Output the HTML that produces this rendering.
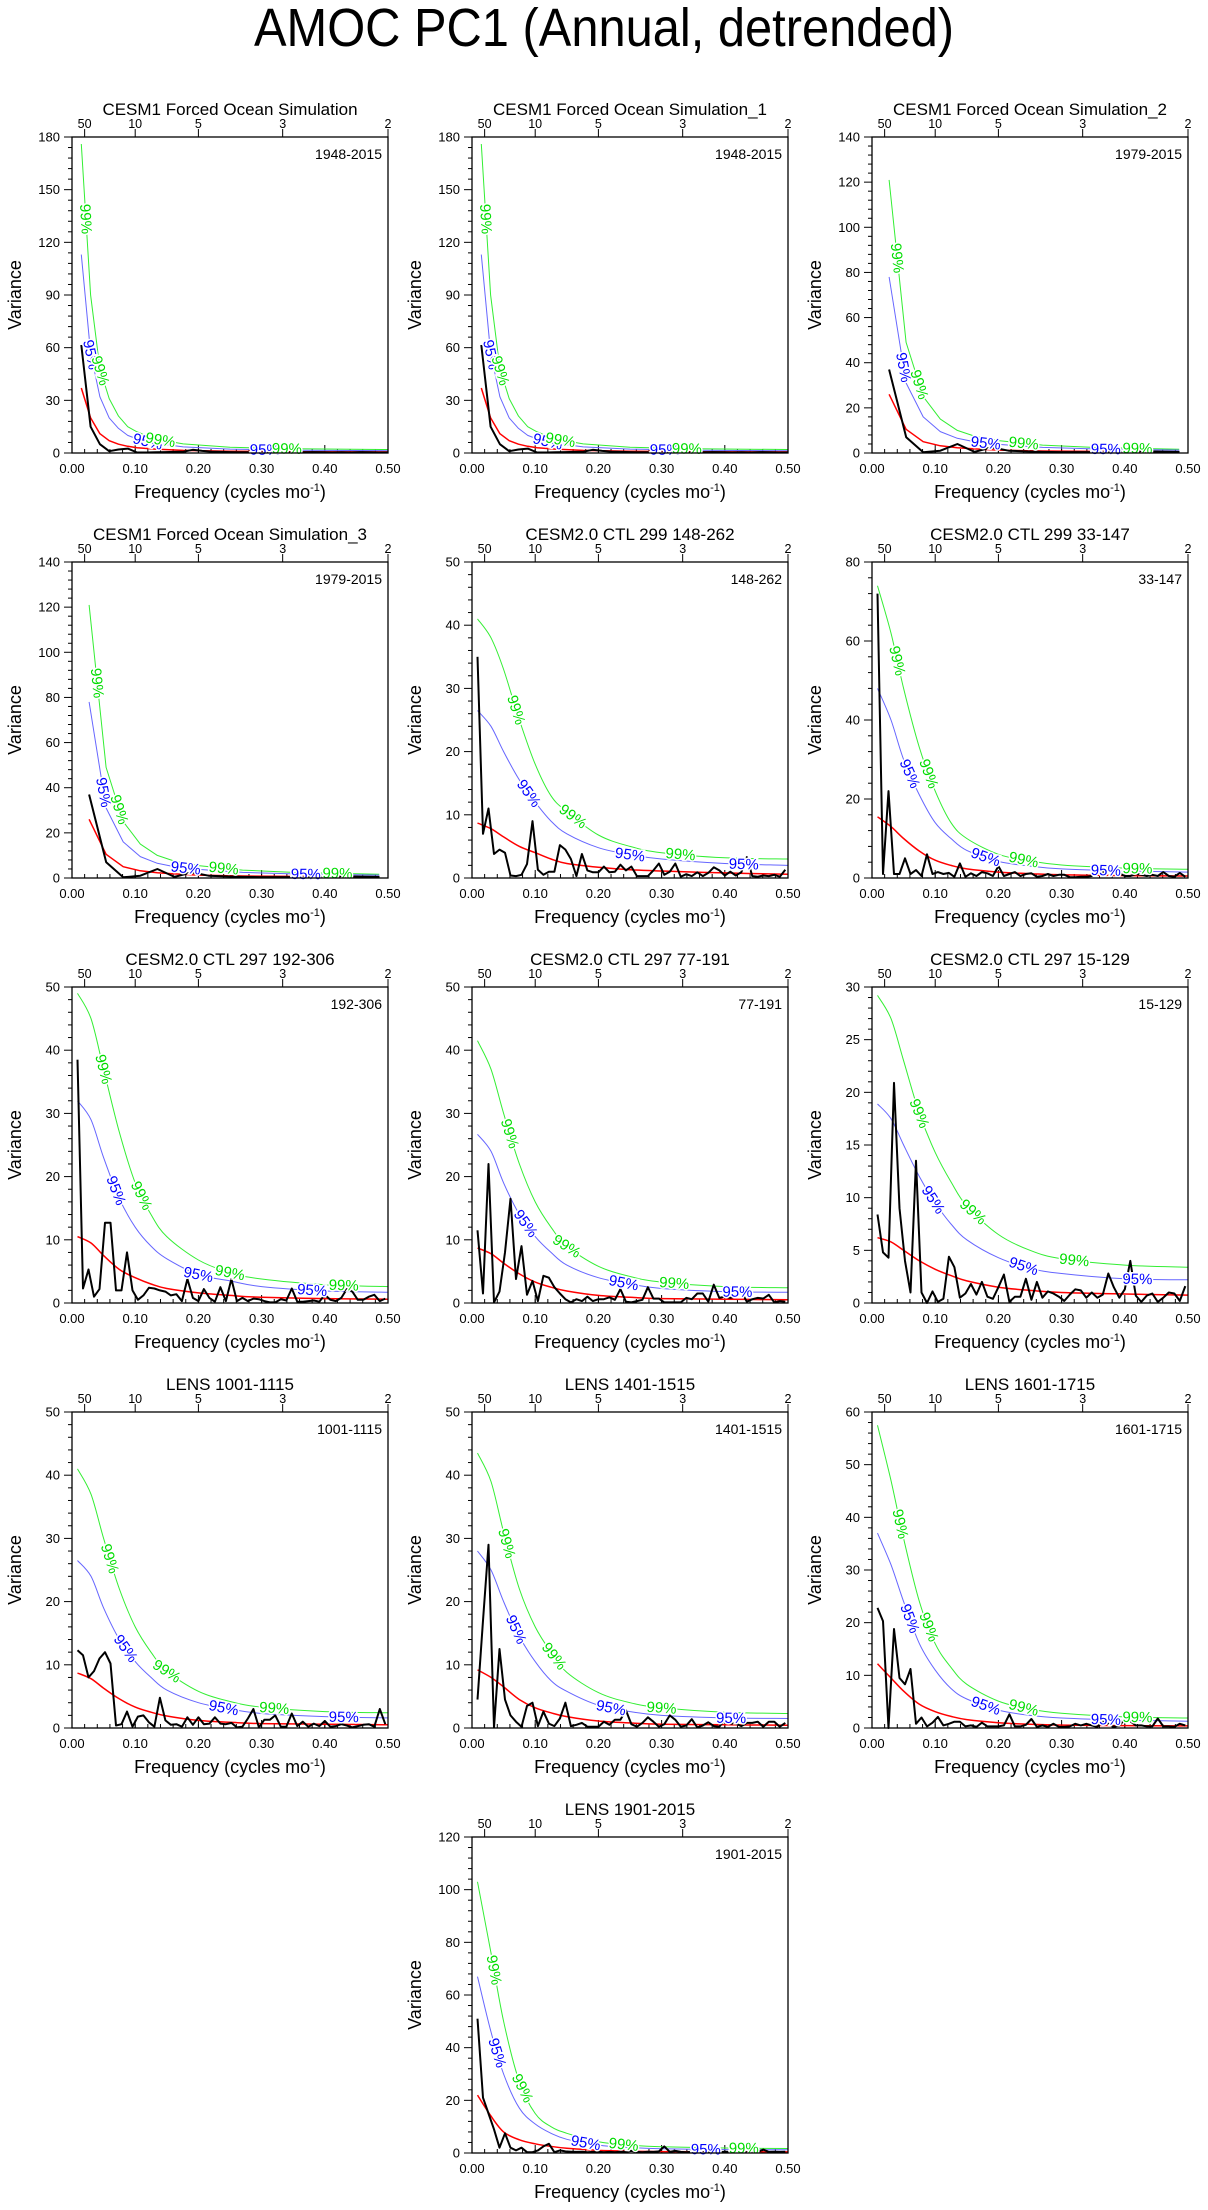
<!DOCTYPE html>
<html><head><meta charset="utf-8"><title>AMOC PC1 (Annual, detrended)</title>
<style>
html,body{margin:0;padding:0;background:#fff;}
svg{display:block;font-family:"Liberation Sans",Arial,sans-serif;}
</style></head>
<body>
<svg id="chart" width="1208" height="2210" viewBox="0 0 1208 2210" xmlns="http://www.w3.org/2000/svg">
<rect width="1208" height="2210" fill="#fff"/>
<text x="604" y="46" font-size="54" text-anchor="middle" textLength="700" lengthAdjust="spacingAndGlyphs">AMOC PC1 (Annual, detrended)</text>
</svg>
<script>
// ---------- data ----------
const titles = ["CESM1 Forced Ocean Simulation","CESM1 Forced Ocean Simulation_1","CESM1 Forced Ocean Simulation_2","CESM1 Forced Ocean Simulation_3","CESM2.0 CTL 299 148-262","CESM2.0 CTL 299 33-147","CESM2.0 CTL 297 192-306","CESM2.0 CTL 297 77-191","CESM2.0 CTL 297 15-129","LENS 1001-1115","LENS 1401-1515","LENS 1601-1715","LENS 1901-2015"];
const periodLabels = ["1948-2015","1948-2015","1979-2015","1979-2015","148-262","33-147","192-306","77-191","15-129","1001-1115","1401-1515","1601-1715","1901-2015"];
const recordLengths = [68,68,37,37,115,115,115,115,115,115,115,115,115];
const yMaxes = [180,180,140,140,50,80,50,50,30,50,50,60,120];
const yMajorSteps = [30,30,20,20,10,20,10,10,5,10,10,10,20];
const xTickValues = [0,0.1,0.2,0.3,0.4,0.5];
const xTickLabels = ["0.00","0.10","0.20","0.30","0.40","0.50"];
const topPeriods = [50,10,5,3,2];

const curveFreq68 = [0.0147,0.0294,0.0441,0.0588,0.0735,0.0882,0.103,0.132,0.176,0.25,0.35,0.5];
const curveFreq37 = [0.027,0.054,0.081,0.108,0.135,0.162,0.2,0.27,0.35,0.486];
const curveFreq115 = [0.0087,0.03,0.05,0.075,0.1,0.125,0.15,0.2,0.25,0.3,0.4,0.5];

const spec1 = [61.5,15,5,1,2,2.5,0.3,0.3,0.4,0.5,0.6,0.8,1.8,1.2,0.8,0.6,0.5,0.4,0.4,0.3,0.3,0.4,0.3,0.3,0.4,0.5,0.4,0.3,0.4,0.3,0.5,0.4,0.3,0.3];
const spec3 = [37,7,0.3,1,4,0.5,2.5,1,0.7,0.5,0.4,0.4,0.4,0.3,0.8,0.8,0.6,0.5];
const spec5 = [35,7,11,3.8,4.5,4,0.4,0.3,0.5,2.2,9,1.3,0.5,1,1,5.2,4.5,3,0.3,3.8,1.2,0.9,0.9,1.8,0.9,1,2.1,1.2,1.8,0.3,0.3,0.3,1.2,2.3,0.5,1,2.3,0.2,0.6,0.3,0.9,0.3,0.8,1.7,1.2,0.4,1,0.4,0.9,3.3,0.3,0.2,0.4,0.3,0.5,0.2,1.3];
const spec6 = [72,1,22,1,1,5,1,2,0.5,6,1,1.5,1,1.3,0.3,3.7,0.3,1.2,0.5,1.5,1.2,0.5,3,0.5,1,1.5,0.5,1,1.2,0.3,0.5,1,0.5,0.8,0.8,0.2,0.2,0.3,0.3,0.5,2,1.5,1.8,2.5,1.2,0.5,0.5,1,0.8,0.5,0.8,0.5,1.5,0.5,0.3,1.3,0.3];
const spec7 = [38.5,2.3,5.3,1,2.2,12.7,12.7,2,2,8,2,0.5,1.2,2.4,2.3,2,1.8,1.2,1.4,0.3,3.8,0.8,0.3,2.2,0.8,0.2,2.5,0.3,3.8,0.3,0.8,0.3,0.7,0.6,0.3,0.1,0.1,0.6,0.4,2.3,0.2,0.2,0.3,0.4,0.2,1.3,0.5,0.3,0.8,2.2,1.8,0.5,0.5,1,1.3,0.3,0.7];
const spec8 = [11.5,1.5,22,0.1,1.8,8,16.5,3.8,9,1.3,3.5,0.3,4.3,4,2.5,1.5,0.6,0.1,0.6,0.3,1,0.3,0.6,0.6,0.9,0.5,2.2,0.2,0.1,0.3,0.5,2.5,0.7,0.7,0.1,0.1,0.1,0.1,0.8,0.6,1.5,1.5,0.2,2.9,0.8,1,0.8,1,1.8,0.2,0.6,0.8,0.7,1.3,0.1,0.3,0.2];
const spec9 = [8.4,4.8,4.3,20.9,9,4,1,13.5,1,0,1.1,0.1,0.4,4.4,3.4,0.5,0.9,1.8,0.8,2,0.6,0.4,1.5,2.7,0.1,0.6,0.6,2.3,0.3,2,0.5,1.1,0.9,0.6,0.2,0.8,1.3,1.2,0.5,1,0.5,0.8,2.8,1.5,0.5,1.3,4,0.7,0.1,0.7,0.9,0.1,0.5,1,0.9,0.2,1.6];
const spec10 = [12.3,11.5,8,9,11,12,10.2,0.4,0.6,2.6,0.2,1.8,2,0.9,0.2,4.8,1.2,0.5,0.6,0.2,1.7,0.5,1.7,0.6,0.7,1.7,0.7,0.6,0.8,0.1,0.2,1.5,3,0.1,1.3,1.3,2,0.2,0.2,2.3,0.3,1,0.2,0.7,0.3,1.1,0.2,0.3,0.6,0.4,0.1,0.3,0.5,0.6,0.2,3,0.6];
const spec11 = [4.5,17,29,0.1,12.5,4.5,2,1,0.2,3.5,4,0.3,2.6,0.7,0.3,1.5,4,0.3,0.5,0.8,0.2,0.2,0.2,1,0.5,1.3,1.3,2.8,0.6,0.2,0.8,1.7,1,0.2,0.6,2,1.3,0.2,0.4,1.4,0.1,0.4,0.9,0.3,0.2,1.3,0.7,0.7,0.3,0.8,0.8,1,0.2,1,1,0.2,0.8];
const spec12 = [22.8,20.3,0,18.8,9.5,8.3,11.2,0.8,2,0.3,1,2.1,0.5,0.8,1.2,1.2,0.3,0.5,0.2,1,0.3,0.3,0.3,0.5,2.6,0.3,0.3,0.6,1.7,0.2,0.5,0.2,0.8,0.2,0.2,0.3,0.8,0.5,0.8,0.5,0.2,1.2,0.8,0.2,0.5,1.6,1.3,0.5,0.5,0.3,0.3,1.8,0.3,0.3,0.2,0.8,0.5];
const spec13 = [51,21,15,9,2,7.5,2,1,2,0.3,0.3,1,2.5,3.5,0.3,1,0.6,0.5,0.4,0.5,0.3,0.4,0.5,0.3,0.4,0.3,0.5,0.4,0.8,0.4,0.3,0.5,0.4,0.6,2.5,0.4,0.8,0.4,0.3,0.5,0.4,0.3,0.5,0.4,0.3,0.5,0.4,0.6,0.4,0.3,0.5,0.4,1.3,0.4,0.5,0.4,0.5];

const red1=[37,20,11,7,5,3.8,3,2.2,1.5,1,0.7,0.6], p95_1=[113,57,32,20,14,10,8,5.5,3.5,2.2,1.6,1.3], p99_1=[176,90,48,31,21,15,12,8,5.2,3.3,2.4,2];
const red3=[26,10.5,5,3.2,2.3,1.8,1.3,0.9,0.7,0.5], p95_3=[78,31,16,9.5,6.5,5,3.8,2.5,1.8,1.3], p99_3=[121,49,25,15,10,7.5,5.5,3.5,2.5,1.7];
const red5=[8.7,7.8,6.5,5,4,3,2.3,1.7,1.3,1.1,0.8,0.6], p95_5=[26.5,24,20,15.5,12,9,7,4.8,3.7,3,2.3,2], p99_5=[41,38,33,25,18,13,10.5,6.8,5,4,3.2,3];
const red6=[15.5,13,10,6.8,4.5,3.2,2.3,1.5,1.1,0.8,0.6,0.5], p95_6=[48,40,30,21,14,10,7,4.2,3,2.3,1.8,1.5], p99_6=[74,62,48,33,22,14,10,6,4.3,3.3,2.5,2.2];
const red7=[10.5,9.5,7.5,5.3,4,3,2.3,1.6,1.2,0.9,0.7,0.6], p95_7=[32,29,23,16.5,12,9,7,4.5,3.5,2.6,1.9,1.7], p99_7=[49,45,37,27,19,14,10.5,6.8,4.8,3.8,2.9,2.6];
const red8=[8.7,7.8,6.3,4.6,3.3,2.5,1.9,1.2,0.9,0.7,0.6,0.5], p95_8=[26.7,24,19,14,10.5,8,6,4,3,2.3,1.8,1.7], p99_8=[41.5,37,30,22,16,12,9,5.8,4.2,3.3,2.6,2.4];
const red9=[6.2,5.8,5,4,3.2,2.6,2.1,1.5,1.2,1,0.85,0.75], p95_9=[18.9,17.5,15,12,9.5,7.5,6,4.3,3.3,2.8,2.3,2.2], p99_9=[29.2,27,23,18,14.3,11.5,9.2,6.5,5,4.2,3.6,3.4];
const red10=[8.7,7.8,6.3,4.6,3.3,2.5,1.9,1.2,0.9,0.7,0.6,0.5], p95_10=[26.5,24,19,14,10.5,8,6,4,3,2.3,1.8,1.6], p99_10=[41,37,30,22,16,12,9,5.8,4.2,3.3,2.6,2.4];
const red11=[9.2,8,6.5,4.5,3.2,2.4,1.8,1.1,0.8,0.6,0.5,0.45], p95_11=[28,25,20,14.5,10.5,7.5,5.8,3.6,2.6,2,1.6,1.5], p99_11=[43.5,39,31,22,16,12,8.8,5.6,4,3.2,2.5,2.3];
const red12=[12.2,9.5,7,4.5,3.1,2.2,1.6,1,0.7,0.55,0.45,0.4], p95_12=[37,31,24,16,11,7.5,5.5,3.4,2.4,1.9,1.5,1.3], p99_12=[57.5,47,36,24,16,11.5,8.3,5.1,3.6,2.8,2.1,1.9];
const red13=[22,14,8,5,3.5,2.5,1.8,1,0.7,0.55,0.45,0.4], p95_13=[67,46,30,17,11,7.5,5.2,3,2.1,1.6,1.3,1.2], p99_13=[103,76,50,27,15,10,7.5,4.3,3,2.4,1.9,1.7];

const label95Freqs = [[0.03,0.12,0.305],[0.03,0.12,0.305],[0.05,0.18,0.37],[0.05,0.18,0.37],[0.09,0.25,0.43],[0.06,0.18,0.37],[0.07,0.2,0.38],[0.085,0.24,0.42],[0.097,0.24,0.42],[0.085,0.24,0.43],[0.07,0.22,0.41],[0.06,0.18,0.37],[0.04,0.18,0.37]];
const label99Freqs = [[0.022,0.045,0.14,0.34],[0.022,0.045,0.14,0.34],[0.04,0.075,0.24,0.42],[0.04,0.075,0.24,0.42],[0.07,0.16,0.33],[0.04,0.09,0.24,0.42],[0.05,0.11,0.25,0.43],[0.06,0.15,0.32],[0.075,0.16,0.32],[0.06,0.15,0.32],[0.055,0.13,0.3],[0.045,0.09,0.24,0.42],[0.035,0.08,0.24,0.43]];

const spectra = [spec1,spec1,spec3,spec3,spec5,spec6,spec7,spec8,spec9,spec10,spec11,spec12,spec13];
const redCurves = [red1,red1,red3,red3,red5,red6,red7,red8,red9,red10,red11,red12,red13];
const p95Curves = [p95_1,p95_1,p95_3,p95_3,p95_5,p95_6,p95_7,p95_8,p95_9,p95_10,p95_11,p95_12,p95_13];
const p99Curves = [p99_1,p99_1,p99_3,p99_3,p99_5,p99_6,p99_7,p99_8,p99_9,p99_10,p99_11,p99_12,p99_13];

// ---------- layout ----------
const NS="http://www.w3.org/2000/svg";
const svg=document.getElementById('chart');
const colX=[72,472,872], rowY=[137,562,987,1412,1837], PW=316, PH=316;
function mk(tag,attrs,parent){const e=document.createElementNS(NS,tag);for(const k in attrs)e.setAttribute(k,attrs[k]);(parent||svg).appendChild(e);return e;}
function curveFreqFor(n){return n===68?curveFreq68:(n===37?curveFreq37:curveFreq115);}
function interp(fs,vs,f){if(f<=fs[0])return vs[0];for(let i=1;i<fs.length;i++){if(f<=fs[i]){const t=(f-fs[i-1])/(fs[i]-fs[i-1]);return vs[i-1]+t*(vs[i]-vs[i-1]);}}return vs[vs.length-1];}
function smoothPath(pts){
  let d='M'+pts[0][0].toFixed(1)+','+pts[0][1].toFixed(1);
  for(let i=0;i<pts.length-1;i++){
    const p0=pts[Math.max(0,i-1)],p1=pts[i],p2=pts[i+1],p3=pts[Math.min(pts.length-1,i+2)];
    const c1=[p1[0]+(p2[0]-p0[0])/6,p1[1]+(p2[1]-p0[1])/6];
    const c2=[p2[0]-(p3[0]-p1[0])/6,p2[1]-(p3[1]-p1[1])/6];
    d+='C'+c1[0].toFixed(1)+','+c1[1].toFixed(1)+' '+c2[0].toFixed(1)+','+c2[1].toFixed(1)+' '+p2[0].toFixed(1)+','+p2[1].toFixed(1);
  }
  return d;
}

titles.forEach((title,p)=>{
  const px = p===12?colX[1]:colX[p%3], py=rowY[Math.floor(p/3)];
  const ymax=yMaxes[p];
  const xs=f=>px+f/0.5*PW, ys=v=>py+PH-v/ymax*PH;
  const g=mk('g',{});
  
  
  const t=mk('text',{x:px+PW/2,y:py-22,'font-size':17,'text-anchor':'middle'},g);
  
  
  t.textContent=title;
  const step=yMajorSteps[p];
  for(let v=0;v<=ymax+1e-9;v+=step/5){
    const major=Math.abs(v/step-Math.round(v/step))<1e-6;
    mk('line',{x1:px-(major?8:4),x2:px,y1:ys(v),y2:ys(v),stroke:'#000','stroke-width':1},g);
    if(major){const l=mk('text',{x:px-12,y:ys(v)+4.5,'font-size':13,'text-anchor':'end'},g);
      
      
      l.textContent=String(Math.round(v));}
  }
  for(let f=0;f<=0.5001;f+=0.02){mk('line',{x1:xs(f),x2:xs(f),y1:py+PH,y2:py+PH-4,stroke:'#000'},g);}
  xTickValues.forEach((f,i)=>{
    mk('line',{x1:xs(f),x2:xs(f),y1:py+PH,y2:py+PH-8,stroke:'#000'},g);
    const l=mk('text',{x:xs(f),y:py+PH+20,'font-size':13,'text-anchor':'middle'},g);
    
    
    l.textContent=xTickLabels[i];
  });
  topPeriods.forEach(per=>{
    const x=xs(1/per);
    mk('line',{x1:x,x2:x,y1:py,y2:py-8,stroke:'#000'},g);
    const l=mk('text',{x:x,y:py-9,'font-size':12.5,'text-anchor':'middle'},g);
    
    
    l.textContent=String(per);
  });
  const xl=mk('text',{x:px+PW/2,y:py+PH+45,'font-size':18,'text-anchor':'middle'},g);
  
  
  xl.innerHTML='Frequency (cycles mo<tspan dy="-7" font-size="11">-1</tspan><tspan dy="7">)</tspan>';
  const yl=mk('text',{x:0,y:0,'font-size':18,'text-anchor':'middle',transform:`translate(${px-51},${py+PH/2}) rotate(-90)`},g);
  
  
  yl.textContent='Variance';
  const an=mk('text',{x:px+PW-6,y:py+22,'font-size':14,'text-anchor':'end'},g);
  
  
  an.textContent=periodLabels[p];
  const cf=curveFreqFor(recordLengths[p]);
  const smooth=recordLengths[p]===115;
  const drawCurve=(vals,color,w,name)=>{
    const pts=vals.map((v,i)=>[xs(cf[i]),ys(v)]);
    const d=smooth?smoothPath(pts):pts.map((q,i)=>(i?'L':'M')+q[0].toFixed(1)+','+q[1].toFixed(1)).join('');
    const e=mk('path',{d:d,fill:'none',stroke:color,'stroke-width':w,'stroke-linejoin':'round'},g);
    
    
  };
  drawCurve(p99Curves[p],'#33ee33',1,'sig-99-curve');
  drawCurve(p95Curves[p],'#6666ff',1,'sig-95-curve');
  drawCurve(redCurves[p],'#ff0000',1.5,'red-noise-curve');
  const sp=spectra[p], n=recordLengths[p];
  const d=sp.map((v,i)=>(i?'L':'M')+xs((i+1)/n).toFixed(1)+','+ys(v).toFixed(1)).join('');
  const s=mk('path',{d:d,fill:'none',stroke:'#000','stroke-width':2,'stroke-linejoin':'round'},g);
  
  
  const lab=(freqs,vals,txt,color)=>{
    freqs.forEach(f=>{
      const x=xs(f), y=ys(interp(cf,vals,f));
      const x2=xs(f+0.005), y2=ys(interp(cf,vals,f+0.005));
      let ang=Math.atan2(y2-y,x2-x)*180/Math.PI;
      const l=mk('text',{x:x,y:y+5,'font-size':15,'text-anchor':'middle',fill:color,stroke:'#fff','stroke-width':3,'paint-order':'stroke',transform:`rotate(${ang.toFixed(1)},${x.toFixed(1)},${y.toFixed(1)})`},g);
      
      
      l.textContent=txt;
    });
  };
  lab(label95Freqs[p],p95Curves[p],'95%','#0000ff');
  lab(label99Freqs[p],p99Curves[p],'99%','#00dd00');
  const fr=mk('rect',{x:px,y:py,width:PW,height:PH,fill:'none',stroke:'#000','stroke-width':1.3},g);
  
  
});
</script>
</body></html>
